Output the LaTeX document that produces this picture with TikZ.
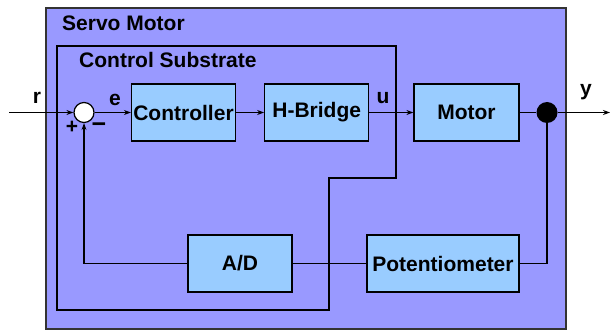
\documentclass[tikz,border=0pt]{standalone}
\usepackage{fontspec}
\setmainfont{Liberation Sans}
\usepackage{xcolor}
\usetikzlibrary{arrows.meta,calc,positioning}

\definecolor{servofill}{HTML}{9999FF}
\definecolor{blockfill}{HTML}{99CCFF}

\tikzset{
  block/.style={draw, line width=1.2pt, fill=blockfill, minimum height=57pt,
                minimum width=104pt, inner sep=0pt},
  sig/.style={line width=1.2pt, -{Stealth[length=7pt,width=5pt]}},
  wire/.style={line width=1.2pt},
  lbl/.style={inner sep=0pt, anchor=base}
}

\begin{document}
\begin{tikzpicture}[x=1pt, y=-1pt, font=\fontsize{21}{25}\selectfont\bfseries]
  \useasboundingbox (0,0) rectangle (610,331);

  % servo housing
  \draw[line width=1.4pt, draw=black!80, fill=servofill] (46,8) rectangle (566,329);
  \node[lbl, anchor=base west] (servo) at (62,31) {Servo Motor};

  % control substrate outline
  \draw[line width=1.2pt] (57,46) -- (396,46) -- (396,178) -- (329,178)
        -- (329,310) -- (57,310) -- cycle;
  \node[lbl, anchor=base west] (subst) at (79,68) {Control Substrate};

  % forward path
  \node[draw, circle, fill=white, line width=1.2pt, minimum size=20pt, inner sep=0pt] (sum) at (84,112.5) {};
  \node[block] (ctrl) at (183.5,112.5) {Controller};
  \node[block, right=28pt of ctrl] (hbridge) {H-Bridge};
  \node[block, minimum width=105pt] (motor) at (466.5,112.5) {Motor};
  \node[circle, fill=black, minimum size=21pt, inner sep=0pt] (tap) at (547,112.5) {};

  % feedback path
  \node[block] (adc) at (240,263.5) {A/D};
  \node[block, minimum width=152pt] (pot) at (443,263.5) {Potentiometer};

  \coordinate (rin) at (9,112.5);
  \coordinate (yout) at (610,112.5);

  \draw[sig] (rin) -- (sum);
  \draw[sig] (sum) -- (ctrl);
  \draw[sig] (ctrl) -- (hbridge);
  \draw[sig] (hbridge) -- (motor);
  \draw[wire] (motor) -- (tap);
  \draw[sig] (tap) -- (yout);
  \draw[wire] (tap) |- (pot.east);
  \draw[wire] (pot) -- (adc);
  \draw[sig] (adc.west) -| (sum.south);

  % signal labels
  \node[lbl] (rlbl) at (37,104) {r};
  \node[lbl] (elbl) at (115,106) {e};
  \node[lbl] (ulbl) at (383,104) {u};
  \node[lbl] (ylbl) at (586,96) {y};
  \node[inner sep=0pt] (plus) at (72,127) {+};
  \node[inner sep=0pt, font=\fontsize{25}{28}\selectfont\bfseries] (minus) at (99,127.5) {−};
\end{tikzpicture}
\end{document}
